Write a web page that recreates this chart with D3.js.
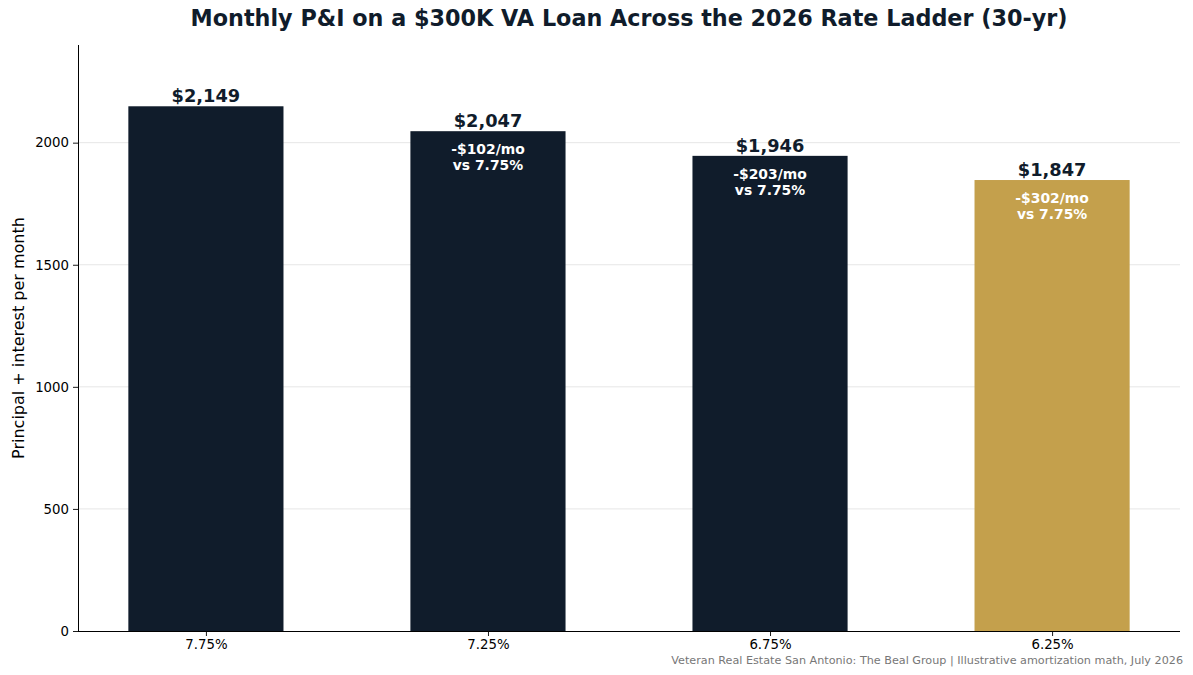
<!DOCTYPE html>
<html>
<head>
<meta charset="utf-8">
<script src="https://cdn.jsdelivr.net/npm/d3@7"></script>
<style>
  body { margin: 0; background: #fff; }
  text { font-family: "DejaVu Sans", sans-serif; }
</style>
</head>
<body>
<svg id="chart" width="1193" height="675"></svg>
<script>
var rates = ['7.75%', '7.25%', '6.75%', '6.25%'];
var payments = [2149, 2047, 1946, 1847];
var savings = [null, 102, 203, 302];
var yTicks = [0, 500, 1000, 1500, 2000];

var navy = '#101c2b', gold = '#c4a04c';

var svg = d3.select('#chart');
var plotL = 78, plotR = 1180, plotT = 45, plotB = 631;

// point scale, padding matches the matplotlib margins
var x = d3.scalePoint().domain(rates).range([plotL, plotR]).padding(0.4535);
var barW = x.step() * 0.55;
var y = d3.scaleLinear().domain([0, 2400]).range([plotB, plotT]);

// grid
svg.append('g').selectAll('line').data(yTicks.slice(1)).enter().append('line')
  .attr('x1', plotL).attr('x2', plotR)
  .attr('y1', d => y(d)).attr('y2', d => y(d))
  .attr('stroke', '#e0e0e0').attr('stroke-width', 0.8);

// bars
svg.append('g').selectAll('rect').data(payments).enter().append('rect')
  .attr('x', (d, i) => x(rates[i]) - barW / 2)
  .attr('width', barW)
  .attr('y', d => y(d))
  .attr('height', d => plotB - y(d))
  .attr('fill', (d, i) => i == payments.length - 1 ? gold : navy);

// value labels
svg.append('g').selectAll('text').data(payments).enter().append('text')
  .attr('x', (d, i) => x(rates[i]))
  .attr('y', d => y(d) - 4)
  .attr('text-anchor', 'middle')
  .style('font-size', '17.8px').style('font-weight', 'bold').style('fill', navy)
  .text(d => '$' + d3.format(',')(d));

// savings inside bars
var inner = svg.append('g').selectAll('text').data(payments).enter()
  .filter((d, i) => savings[i] != null)
  .append('text')
  .attr('text-anchor', 'middle')
  .style('font-size', '13.9px').style('font-weight', 'bold').style('fill', '#fff');
inner.append('tspan')
  .attr('x', (d) => x(rates[payments.indexOf(d)]))
  .attr('y', d => y(d) + 23)
  .text(d => '-$' + savings[payments.indexOf(d)] + '/mo');
inner.append('tspan')
  .attr('x', (d) => x(rates[payments.indexOf(d)]))
  .attr('y', d => y(d) + 39)
  .text('vs ' + rates[0]);

// axes
var xAxis = svg.append('g').attr('transform', 'translate(0,' + plotB + ')')
  .call(d3.axisBottom(x).tickSize(5).tickPadding(4));
var yAxis = svg.append('g').attr('transform', 'translate(' + plotL + ',0)')
  .call(d3.axisLeft(y).tickValues(yTicks).tickFormat(d3.format('d')).tickSize(5).tickPadding(4));
[xAxis, yAxis].forEach(function(a) {
  a.selectAll('text').style('font-size', '13.3px').style('fill', '#000')
    .style('font-family', '"DejaVu Sans", sans-serif');
  a.selectAll('line').attr('stroke', '#000').attr('stroke-width', 0.9);
  a.select('.domain').attr('stroke', '#000').attr('stroke-width', 1);
});
yAxis.select('.domain').attr('d', 'M0.5,' + plotB + 'V' + plotT);
xAxis.select('.domain').attr('d', 'M' + plotL + ',0.5H' + plotR);

// titles
svg.append('text').attr('x', (plotL + plotR) / 2).attr('y', 26)
  .attr('text-anchor', 'middle')
  .style('font-size', '22.3px').style('font-weight', 'bold').style('fill', navy)
  .text('Monthly P&I on a $300K VA Loan Across the 2026 Rate Ladder (30-yr)');

svg.append('text')
  .attr('transform', 'translate(24,' + ((plotT + plotB) / 2) + ') rotate(-90)')
  .attr('text-anchor', 'middle')
  .style('font-size', '16px').style('fill', '#000')
  .text('Principal + interest per month');

svg.append('text').attr('x', 1183).attr('y', 664)
  .attr('text-anchor', 'end')
  .style('font-size', '11.2px').style('fill', '#777')
  .text('Veteran Real Estate San Antonio: The Beal Group | Illustrative amortization math, July 2026');
</script>
</body>
</html>
